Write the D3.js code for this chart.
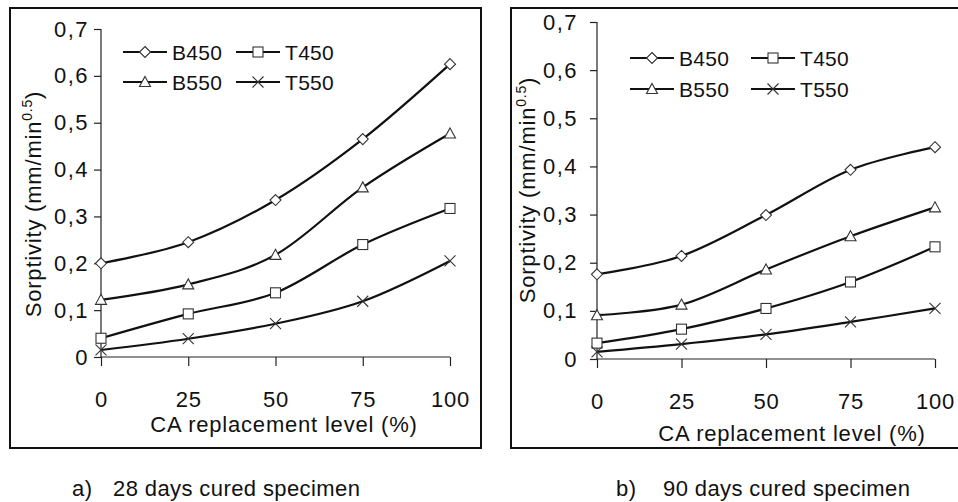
<!DOCTYPE html>
<html lang="en">
<head>
    <meta charset="UTF-8">
    <title>Sorptivity</title>
    <script src="https://d3js.org/d3.v7.min.js"></script>
    <style>
        body{
            margin: 0;
            background: white;
        }
        svg text{
            font-family: "Liberation Sans", Arial, sans-serif;
            fill: #111;
        }
        .big{
            font-size: 22px;
            letter-spacing: 0.8px;
        }
        .cap{
            font-size: 22px;
            letter-spacing: 0.4px;
        }
    </style>
</head>
<body>
<svg id="canvas" width="958" height="502"></svg>
<script>
    // CA replacement level (%)
    let levels = [0, 25, 50, 75, 100]
    let yTicks = [0, 0.1, 0.2, 0.3, 0.4, 0.5, 0.6, 0.7]
    let seriesNames = ["B450", "T450", "B550", "T550"]

    // 28 days
    let b450_28 = [0.200, 0.245, 0.335, 0.465, 0.625]
    let b550_28 = [0.122, 0.155, 0.218, 0.362, 0.477]
    let t450_28 = [0.040, 0.092, 0.137, 0.240, 0.317]
    let t550_28 = [0.015, 0.039, 0.071, 0.119, 0.205]

    // 90 days
    let b450_90 = [0.176, 0.214, 0.299, 0.393, 0.440]
    let b550_90 = [0.091, 0.113, 0.186, 0.255, 0.315]
    let t450_90 = [0.033, 0.062, 0.105, 0.160, 0.233]
    let t550_90 = [0.015, 0.031, 0.051, 0.077, 0.105]

    let svg = d3.select('svg')

    let panels = [
        {frame: [10, 8, 471, 440], x0: 101, x1: 450, y0: 357, y1: 29,
         ytx: 41, yty: 204, xtx: 284, xty: 432, tickLabelGap: 12,
         legend: [[123, 52], [236, 52], [123, 82], [236, 82]],
         cap: ["a)", "28 days cured specimen"], capX: [72, 113],
         data: {B450: b450_28, T450: t450_28, B550: b550_28, T550: t550_28}},
        {frame: [511, 8, 460, 440], x0: 597, x1: 935, y0: 359, y1: 22,
         ytx: 535, yty: 190, xtx: 792, xty: 441, tickLabelGap: 19,
         legend: [[630, 58], [751, 58], [630, 89], [751, 89]],
         cap: ["b)", "90 days cured specimen"], capX: [616, 663],
         data: {B450: b450_90, T450: t450_90, B550: b550_90, T550: t550_90}}
    ]

    function marker(g, name, x, y){
        let m = g.append('g').attr('transform', 'translate(' + x + ',' + y + ')')
            .attr('fill', 'white').attr('stroke', '#333').attr('stroke-width', 1.1)
        if (name === "B450"){
            m.append('path').attr('d', 'M0,-5.5L5.5,0L0,5.5L-5.5,0Z')
        } else if (name === "T450"){
            m.append('rect').attr('x', -5).attr('y', -5).attr('width', 10).attr('height', 10)
        } else if (name === "B550"){
            m.append('path').attr('d', 'M0,-5.5L5.5,4.5L-5.5,4.5Z')
        } else {
            m.append('path').attr('d', 'M-5.5,-5.5L5.5,5.5M5.5,-5.5L-5.5,5.5').attr('fill', 'none')
        }
    }

    panels.forEach(function (p){
        let g = svg.append('g')

        g.append('rect')
            .attr('x', p.frame[0]).attr('y', p.frame[1])
            .attr('width', p.frame[2]).attr('height', p.frame[3])
            .attr('fill', 'none').attr('stroke', '#111').attr('stroke-width', 2)

        let x = d3.scaleLinear().domain([0, 100]).range([p.x0, p.x1])
        let y = d3.scaleLinear().domain([0, 0.7]).range([p.y0, p.y1])

        let yAxis = d3.axisLeft(y).tickValues(yTicks).tickSize(7).tickPadding(p.tickLabelGap - 7)
            .tickFormat(function (d){ return d === 0 ? "0" : d3.format(".1f")(d).replace(".", ",") })
        let xAxis = d3.axisBottom(x).tickValues(levels).tickSize(9).tickPadding(25)

        let ya = g.append('g').attr('transform', 'translate(' + p.x0 + ',0)').call(yAxis)
        let xa = g.append('g').attr('transform', 'translate(0,' + p.y0 + ')').call(xAxis)
        ;[ya, xa].forEach(function (a){
            a.select('.domain').attr('stroke', '#222').attr('stroke-width', 1.2)
            a.selectAll('.tick line').attr('stroke', '#222').attr('stroke-width', 1.2)
            a.selectAll('text').style('font-size', '22px').attr('fill', '#111')
            a.attr('font-family', null)
        })
        ya.selectAll('text').style('letter-spacing', '1.5px')
        xa.selectAll('text').style('letter-spacing', '0.8px')
        xa.select('.domain').attr('d', 'M' + p.x0 + ',0H' + p.x1)
        ya.select('.domain').attr('d', 'M0,' + p.y1 + 'V' + p.y0)

        // axis titles
        let yt = g.append('text').attr('class', 'big')
            .attr('transform', 'translate(' + p.ytx + ',' + p.yty + ') rotate(-90)')
            .attr('text-anchor', 'middle')
        yt.append('tspan').text('Sorptivity (mm/min')
        yt.append('tspan').attr('dy', -9).style('font-size', '14px').text('0.5')
        yt.append('tspan').attr('dy', 9).text(')')

        g.append('text').attr('class', 'big').attr('x', p.xtx).attr('y', p.xty)
            .attr('text-anchor', 'middle')
            .text('CA replacement level (%)')

        // curves
        let line = d3.line()
            .x(function (d, i){ return x(levels[i]) })
            .y(function (d){ return y(d) })
            .curve(d3.curveCardinal.tension(0))

        seriesNames.forEach(function (name){
            let vals = p.data[name]
            g.append('path').datum(vals)
                .attr('d', line)
                .attr('fill', 'none').attr('stroke', '#111').attr('stroke-width', 2.2)
            vals.forEach(function (v, i){ marker(g, name, x(levels[i]), y(v)) })
        })

        // legend
        seriesNames.forEach(function (name, i){
            let lx = p.legend[i][0], ly = p.legend[i][1]
            g.append('line').attr('x1', lx).attr('x2', lx + 44)
                .attr('y1', ly).attr('y2', ly)
                .attr('stroke', '#111').attr('stroke-width', 2.2)
            marker(g, name, lx + 22, ly)
            g.append('text').attr('x', lx + 49).attr('y', ly + 7.5)
                .style('font-size', '21px').style('letter-spacing', '0.3px').text(name)
        })

        // caption
        g.append('text').attr('class', 'cap').attr('x', p.capX[0]).attr('y', 496).text(p.cap[0])
        g.append('text').attr('class', 'cap').attr('x', p.capX[1]).attr('y', 496).text(p.cap[1])
    })
</script>
</body>
</html>
